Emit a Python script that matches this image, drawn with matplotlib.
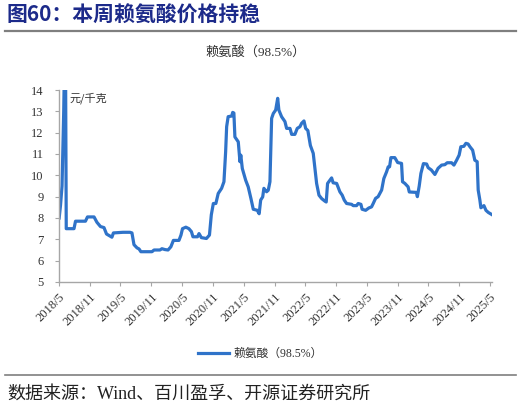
import matplotlib
matplotlib.use('Agg')
import matplotlib.pyplot as plt
import matplotlib.dates as mdates
import pandas as pd

# 赖氨酸(98.5%) 价格, 元/千克
dates = ['2018-05-02', '2018-05-10', '2018-05-19', '2018-05-25', '2018-05-29', '2018-06-03', '2018-06-09', '2018-06-13',
         '2018-07-29', '2018-08-07', '2018-10-05', '2018-10-17', '2018-11-25', '2018-12-12', '2019-01-02', '2019-01-23',
         '2019-02-07', '2019-02-28', '2019-03-11', '2019-03-20', '2019-05-16', '2019-06-26', '2019-07-08', '2019-07-20',
         '2019-08-07', '2019-08-19', '2019-08-30', '2019-11-04', '2019-11-16', '2019-12-21', '2020-01-02', '2020-01-20',
         '2020-02-07', '2020-02-24', '2020-03-10', '2020-04-12', '2020-04-24', '2020-05-03', '2020-05-23', '2020-06-10',
         '2020-06-25', '2020-07-04', '2020-07-31', '2020-08-09', '2020-08-23', '2020-09-22', '2020-10-10', '2020-10-21',
         '2020-11-02', '2020-11-17', '2020-12-01', '2020-12-21', '2021-01-04', '2021-01-14', '2021-01-20', '2021-01-29',
         '2021-02-19', '2021-02-25', '2021-03-04', '2021-03-10', '2021-03-30', '2021-04-09', '2021-04-14', '2021-04-23',
         '2021-05-13', '2021-05-28', '2021-06-13', '2021-06-27', '2021-07-21', '2021-08-01', '2021-08-10', '2021-08-22',
         '2021-08-29', '2021-09-14', '2021-09-24', '2021-10-04', '2021-10-14', '2021-10-24', '2021-11-07', '2021-11-19',
         '2021-11-26', '2021-12-12', '2022-01-01', '2022-01-11', '2022-01-31', '2022-02-10', '2022-03-01', '2022-03-15',
         '2022-03-31', '2022-04-10', '2022-04-24', '2022-05-04', '2022-05-17', '2022-06-01', '2022-06-18', '2022-06-28',
         '2022-07-08', '2022-07-22', '2022-08-07', '2022-08-26', '2022-09-03', '2022-09-11', '2022-09-25', '2022-10-05',
         '2022-10-14', '2022-11-04', '2022-11-23', '2022-12-07', '2022-12-19', '2023-01-02', '2023-02-01', '2023-02-10',
         '2023-03-02', '2023-03-12', '2023-03-28', '2023-04-04', '2023-04-25', '2023-05-14', '2023-05-30', '2023-06-09',
         '2023-06-23', '2023-07-08', '2023-07-29', '2023-08-11', '2023-08-27', '2023-09-06', '2023-09-14', '2023-09-22',
         '2023-10-15', '2023-11-01', '2023-11-24', '2023-11-30', '2023-12-14', '2024-01-02', '2024-01-09', '2024-02-20',
         '2024-02-26', '2024-03-08', '2024-03-18', '2024-04-02', '2024-04-21', '2024-04-30', '2024-05-19', '2024-06-09',
         '2024-06-28', '2024-07-19', '2024-08-07', '2024-08-21', '2024-09-16', '2024-09-30', '2024-10-16', '2024-10-31',
         '2024-11-10', '2024-11-28', '2024-12-10', '2024-12-23', '2025-01-03', '2025-01-19', '2025-02-01', '2025-02-15',
         '2025-02-21', '2025-03-03', '2025-03-09', '2025-03-27', '2025-04-08', '2025-04-22', '2025-05-11']
prices = [8.0, 8.6, 9.5, 11.5, 13.0, 15.5, 15.0, 7.5,
          7.5, 7.85, 7.85, 8.05, 8.05, 7.8, 7.6, 7.55,
          7.25, 7.15, 7.1, 7.3, 7.33, 7.33, 7.3, 6.75,
          6.6, 6.55, 6.42, 6.42, 6.5, 6.5, 6.56, 6.52,
          6.5, 6.65, 6.95, 6.95, 7.2, 7.5, 7.57, 7.5,
          7.36, 7.12, 7.12, 7.27, 7.08, 7.04, 7.2, 8.15,
          8.68, 8.68, 9.15, 9.39, 9.7, 11.1, 12.28, 12.75,
          12.78, 12.95, 12.92, 11.8, 11.57, 10.64, 10.95, 10.32,
          9.77, 9.46, 8.92, 8.41, 8.36, 8.2, 8.84, 8.99,
          9.39, 9.23, 9.3, 9.7, 12.67, 12.9, 13.06, 13.61,
          13.06, 12.75, 12.52, 12.2, 12.2, 11.92, 11.92, 12.2,
          12.28, 12.44, 12.55, 12.2, 12.1, 11.4, 11.03, 10.32,
          9.62, 9.07, 8.91, 8.79, 8.75, 9.62, 9.77, 9.88,
          9.65, 9.62, 9.23, 9.07, 8.84, 8.68, 8.64, 8.58,
          8.58, 8.68, 8.64, 8.41, 8.36, 8.47, 8.52, 8.68,
          8.92, 9.0, 9.31, 9.85, 10.16, 10.4, 10.4, 10.83,
          10.83, 10.6, 10.56, 9.7, 9.62, 9.46, 9.22, 9.2,
          9.0, 9.5, 10.09, 10.55, 10.53, 10.36, 10.25, 10.04,
          10.33, 10.48, 10.5, 10.59, 10.59, 10.48, 10.71, 10.95,
          11.34, 11.36, 11.5, 11.47, 11.34, 11.18, 10.71, 10.64,
          9.31, 8.84, 8.48, 8.58, 8.36, 8.26, 8.17]

yticks = list(range(5, 15))
series_name = '赖氨酸（98.5%）'

CJK = 'Noto Sans CJK SC'
MIX = ['Liberation Serif', 'Noto Sans CJK SC']
GRAY = '#a6a6a6'

x = pd.to_datetime(dates)

fig = plt.figure(figsize=(5.21, 4.05), dpi=100)
ax = fig.add_axes([59 / 521, 1 - 282 / 405, (491.5 - 59) / 521, (282 - 90) / 405])

ax.plot(x, prices, color='#2f73c9', lw=2.3, label=series_name, solid_joinstyle='round')

ax.set_ylim(5, 14)
ax.set_yticks(yticks)
ax.set_xlim(pd.Timestamp('2018-05-01'), pd.Timestamp('2025-05-11'))
ax.xaxis.set_major_locator(mdates.MonthLocator(bymonth=[5, 11]))
ax.xaxis.set_major_formatter(mdates.DateFormatter('%Y/%-m'))

for s in ['top', 'right']:
    ax.spines[s].set_visible(False)
for s in ['left', 'bottom']:
    ax.spines[s].set_color(GRAY)
    ax.spines[s].set_linewidth(1.0)
ax.tick_params(axis='both', color=GRAY, length=3, width=0.8, labelsize=9, labelcolor='#333333')
ax.tick_params(axis='y', pad=8)
for lab in ax.get_xticklabels():
    lab.set_rotation(45)
    lab.set_ha('right')
    lab.set_rotation_mode('anchor')
    lab.set_family('Liberation Serif')
for lab in ax.get_yticklabels():
    lab.set_family('Liberation Serif')

ax.text(0.025, 0.99, '元/千克', transform=ax.transAxes, ha='left', va='top',
        fontsize=8, family=CJK, color='#333333', style='italic')

fig.text(256 / 521, 1 - 52 / 405, series_name, ha='center', va='center',
         fontsize=9.5, family=MIX, color='#333333')

leg = ax.legend(loc='center', bbox_to_anchor=(0.5, 1 - 354 / 405), bbox_transform=fig.transFigure,
                frameon=False, handlelength=2.6, handletextpad=0.4,
                prop={'family': MIX, 'size': 8.5})
for t in leg.get_texts():
    t.set_color('#333333')

# 标题与底部说明
fig.text(7 / 521, 1 - 15 / 405, '图60：本周赖氨酸价格持稳', ha='left', va='center',
         fontsize=15, family=CJK, weight='heavy', color='#1c2a8a')
fig.add_artist(plt.Line2D([5 / 521, 516 / 521], [1 - 31 / 405] * 2, color='#7f7f7f', lw=1.6))
fig.add_artist(plt.Line2D([5 / 521, 516 / 521], [1 - 375 / 405] * 2, color='#7f7f7f', lw=1.2))
fig.text(7 / 521, 1 - 394 / 405, '数据来源：Wind、百川盈孚、开源证券研究所', ha='left', va='center',
         fontsize=13, family=MIX, color='#222222')

fig.savefig('out.png', dpi=100)
